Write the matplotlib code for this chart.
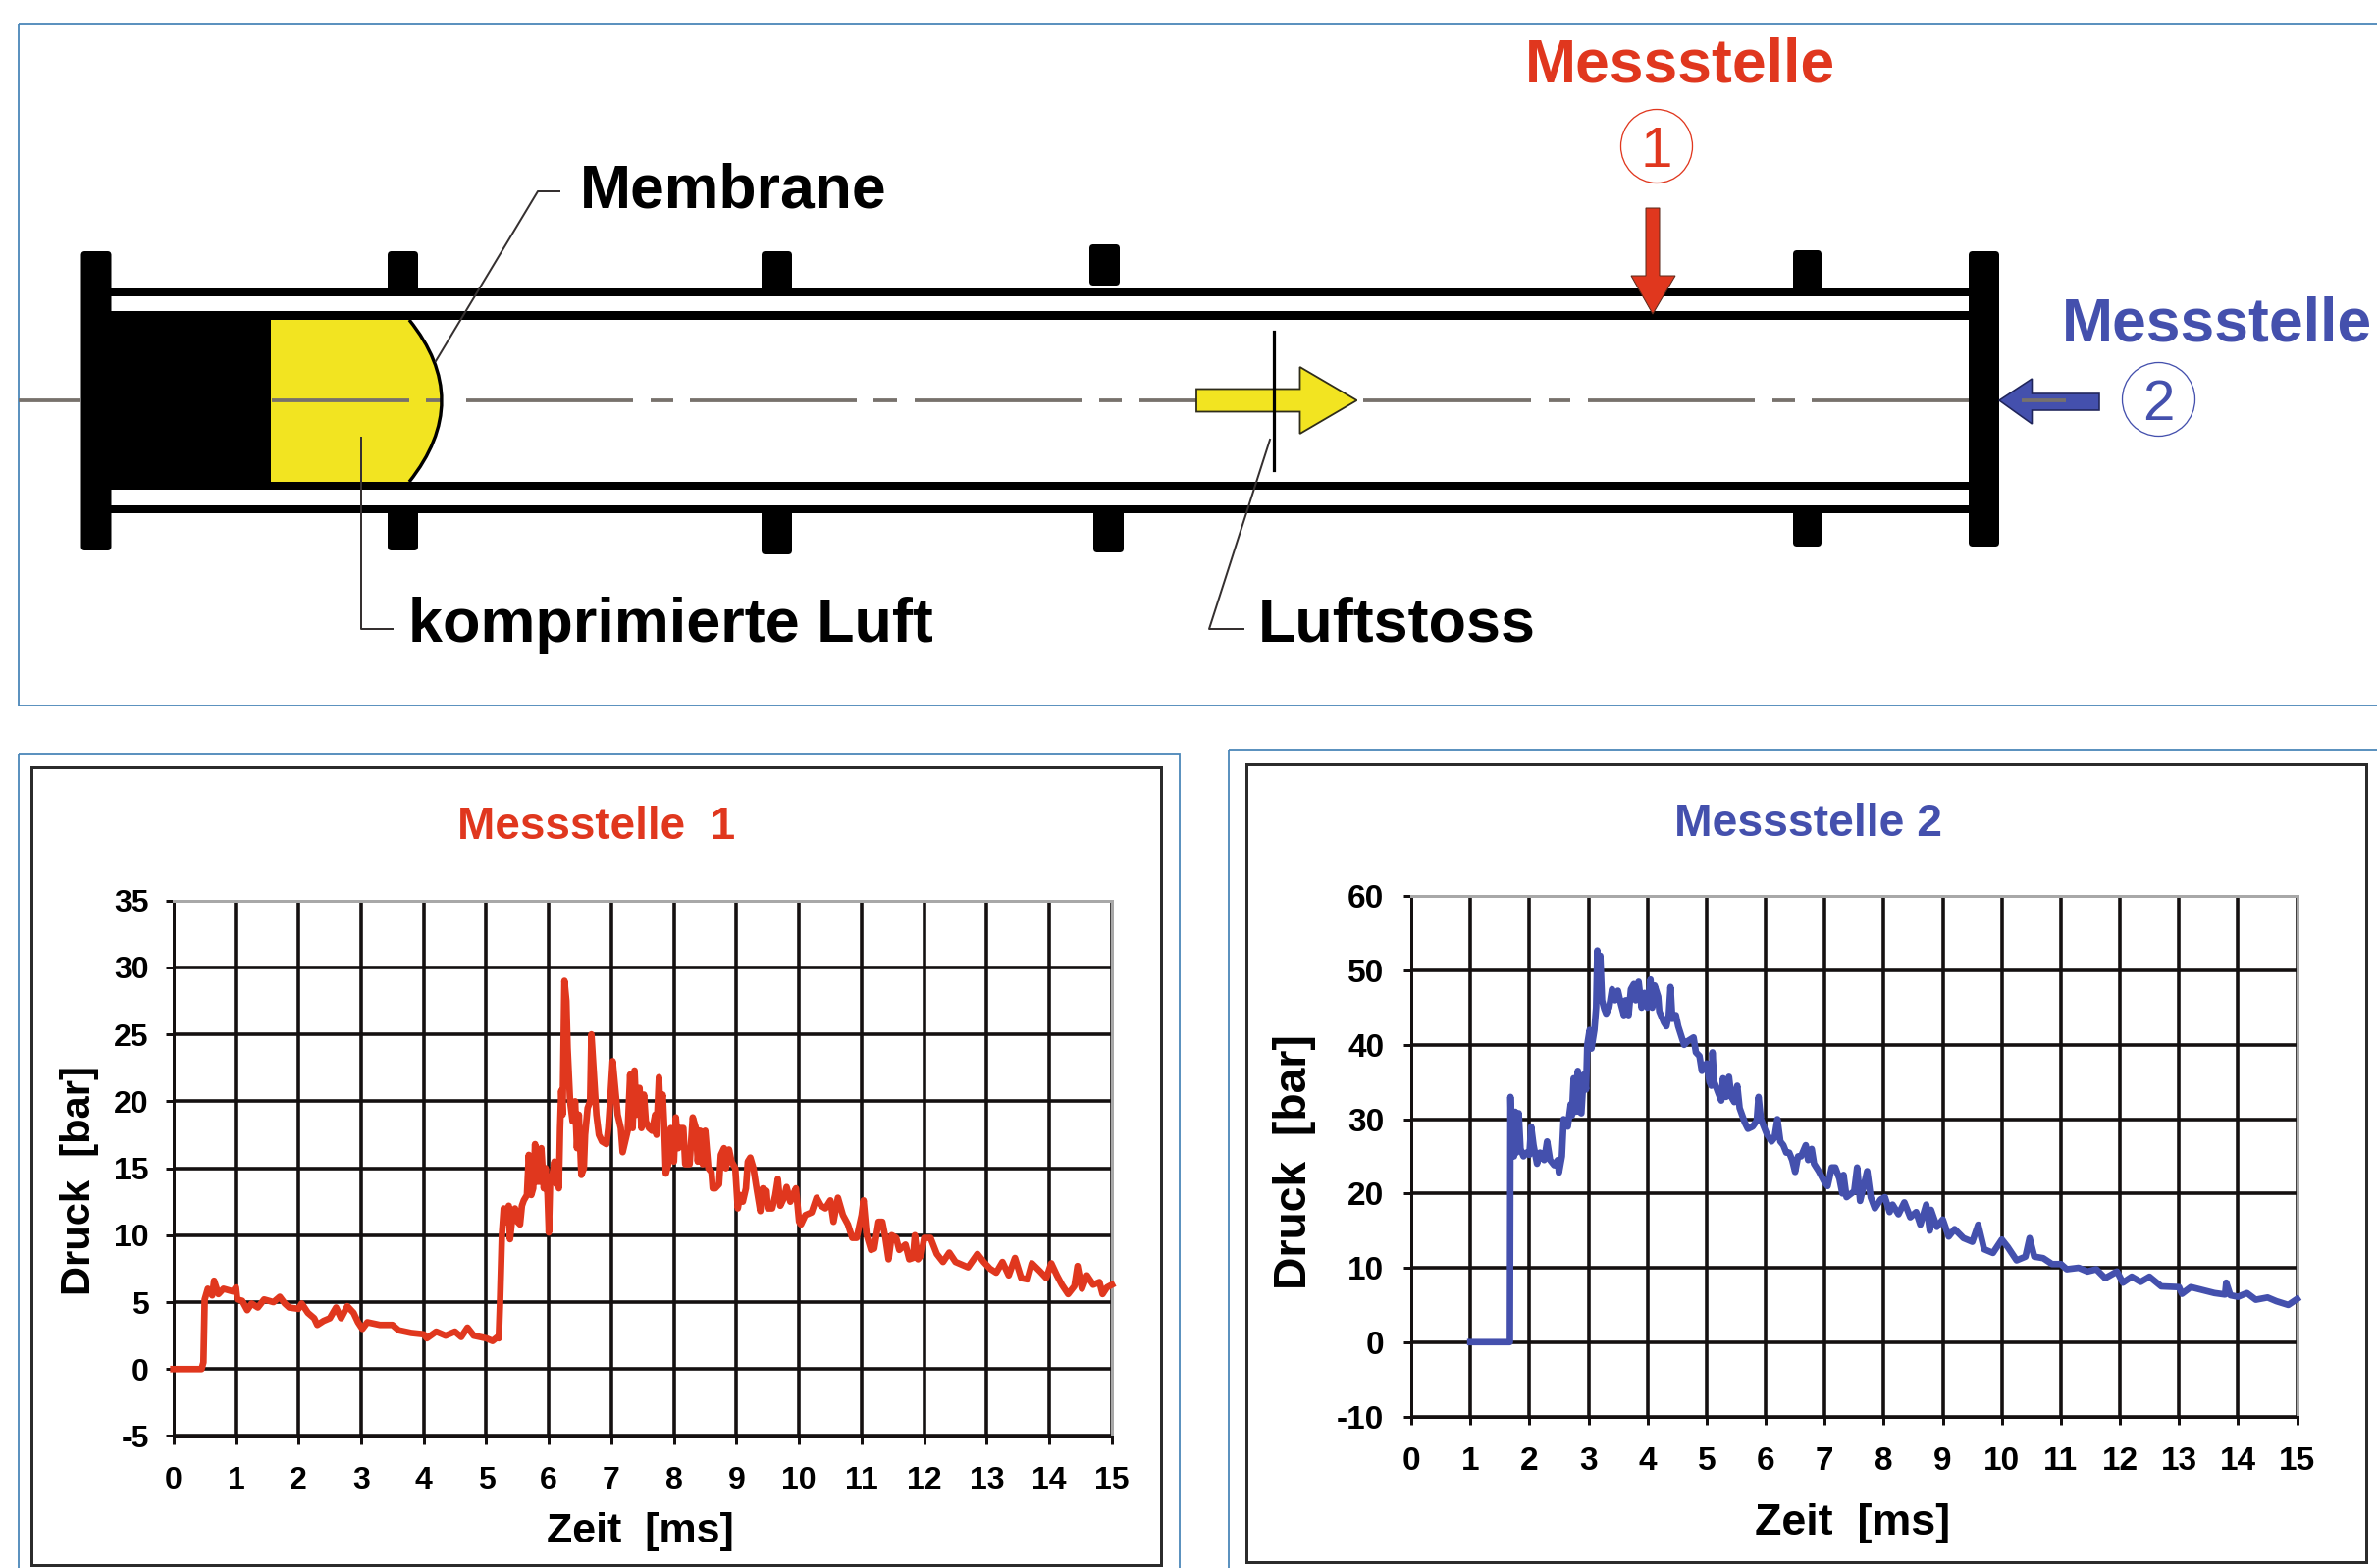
import matplotlib
matplotlib.use("Agg")
import matplotlib.pyplot as plt
from matplotlib.patches import Rectangle, Ellipse, Polygon, PathPatch, FancyBboxPatch
from matplotlib.path import Path

plt.rcParams['font.family'] = ['Liberation Sans', 'DejaVu Sans']

WIDTH = 2422
HEIGHT = 1598
RED = '#e0371e'
BLUE = '#4450ad'
YELLOW = '#f2e421'
BORDER = '#4a86b8'
DARK = '#141010'

# values
time_1 = [0, 0.2, 0.45, 0.48, 0.5, 0.55, 0.62, 0.65, 0.72, 0.8, 0.95, 1, 1.02, 1.1, 1.18, 1.25, 1.35, 1.45, 1.6, 1.7,
          1.78, 1.85, 2, 2.05, 2.15, 2.25, 2.3, 2.4, 2.5, 2.6, 2.68, 2.78, 2.88, 2.95, 3.02, 3.1, 3.3, 3.5, 3.6, 3.8,
          4, 4.05, 4.2, 4.35, 4.5, 4.6, 4.7, 4.8, 5, 5.1, 5.18, 5.2, 5.22, 5.25, 5.28, 5.32, 5.36, 5.38, 5.42, 5.46,
          5.5, 5.54, 5.57, 5.6, 5.65, 5.68, 5.72, 5.75, 5.78, 5.8, 5.85, 5.88, 5.92, 5.95, 5.98, 6, 6.02, 6.05, 6.09, 6.12,
          6.14, 6.16, 6.18, 6.2, 6.22, 6.25, 6.28, 6.3, 6.34, 6.38, 6.42, 6.45, 6.48, 6.52, 6.56, 6.58, 6.62, 6.66, 6.68, 6.72,
          6.76, 6.8, 6.85, 6.92, 6.95, 6.98, 7.02, 7.06, 7.1, 7.15, 7.18, 7.22, 7.26, 7.3, 7.34, 7.37, 7.4, 7.45, 7.48, 7.52,
          7.55, 7.6, 7.65, 7.7, 7.72, 7.76, 7.78, 7.82, 7.85, 7.87, 7.92, 7.95, 8, 8.03, 8.07, 8.1, 8.15, 8.18, 8.25, 8.3,
          8.35, 8.38, 8.42, 8.46, 8.5, 8.55, 8.6, 8.62, 8.66, 8.72, 8.75, 8.8, 8.83, 8.88, 8.92, 8.98, 9.02, 9.06, 9.1, 9.15,
          9.18, 9.22, 9.27, 9.32, 9.38, 9.42, 9.48, 9.5, 9.57, 9.62, 9.66, 9.7, 9.76, 9.8, 9.86, 9.9, 9.95, 10, 10.03, 10.1,
          10.2, 10.28, 10.35, 10.42, 10.5, 10.55, 10.62, 10.7, 10.78, 10.85, 10.92, 11, 11.03, 11.08, 11.15, 11.2, 11.27, 11.33, 11.38, 11.43,
          11.48, 11.55, 11.6, 11.7, 11.76, 11.82, 11.85, 11.9, 11.95, 12, 12.1, 12.2, 12.3, 12.4, 12.5, 12.6, 12.7, 12.85, 12.95, 13.05,
          13.15, 13.25, 13.35, 13.45, 13.55, 13.65, 13.72, 13.85, 13.95, 14.03, 14.12, 14.2, 14.3, 14.4, 14.45, 14.52, 14.6, 14.7, 14.8, 14.85,
          14.92, 15]
druck_1 = [0, 0, 0, 0.5, 5.2, 6, 5.5, 6.6, 5.6, 6, 5.8, 6.1, 5.2, 5.1, 4.4, 4.9, 4.6, 5.2, 5, 5.4,
           4.9, 4.6, 4.5, 4.9, 4.2, 3.8, 3.3, 3.6, 3.8, 4.6, 3.8, 4.7, 4.2, 3.5, 3, 3.5, 3.3, 3.3, 2.9, 2.7,
           2.6, 2.3, 2.8, 2.5, 2.8, 2.4, 3.1, 2.5, 2.3, 2.1, 2.4, 2.3, 5, 10, 12, 11, 12.2, 9.7, 11.5, 12,
           11, 10.8, 12.2, 12.6, 13, 16, 13, 13.5, 16.8, 14, 14, 16.5, 13.5, 15, 13, 10.2, 14, 14.2, 15.5, 13.8,
           15.3, 13.5, 18, 20.8, 19, 29, 27.5, 24, 20, 18.5, 20, 16.5, 19, 14.5, 15, 17.5, 19.5, 20, 25, 22,
           19, 17.5, 17, 16.8, 18, 20, 23, 21, 19, 18, 16.2, 17, 17.8, 22, 18, 22.3, 19, 21, 18, 20.5,
           18.5, 18, 17.8, 19, 17.5, 21.8, 19.5, 20.5, 17.5, 14.6, 15.5, 18, 15.5, 18.8, 16.5, 18, 18, 15.3, 15.3, 18.8,
           18, 15.5, 17.8, 15.3, 17.8, 15, 14.7, 13.5, 13.5, 13.8, 16, 16.5, 15, 16.4, 15.5, 15, 12, 13, 12.5, 13.5,
           15.5, 15.8, 15, 13.5, 11.8, 13.5, 13.3, 12, 12, 13, 14.2, 12.2, 12.8, 13.6, 12.5, 13, 13.5, 11, 10.8, 11.5,
           11.7, 12.8, 12.2, 12, 12.6, 11, 12.8, 11.5, 10.8, 9.8, 9.8, 11.5, 12.6, 10, 8.9, 9, 11, 11, 9.8, 8.2,
           10, 9.8, 8.9, 9.3, 8.2, 8.3, 10, 8.2, 8.5, 9.8, 9.8, 8.6, 8, 8.7, 8, 7.8, 7.6, 8.6, 8, 7.5,
           7.2, 8, 7, 8.3, 6.8, 6.7, 7.9, 7.3, 6.8, 7.9, 7, 6.3, 5.6, 6.2, 7.7, 6, 7, 6.3, 6.5, 5.6,
           6.1, 6.3]

time_2 = [1, 1.67, 1.68, 1.7, 1.72, 1.74, 1.76, 1.78, 1.82, 1.85, 1.9, 1.95, 2, 2.03, 2.07, 2.13, 2.18, 2.25, 2.3, 2.35,
          2.42, 2.48, 2.5, 2.55, 2.58, 2.65, 2.7, 2.72, 2.75, 2.78, 2.82, 2.85, 2.88, 2.92, 2.96, 2.98, 3.02, 3.05, 3.1, 3.13,
          3.15, 3.18, 3.2, 3.23, 3.27, 3.3, 3.35, 3.4, 3.45, 3.5, 3.55, 3.6, 3.63, 3.68, 3.72, 3.77, 3.8, 3.85, 3.9, 3.95,
          4, 4.05, 4.08, 4.12, 4.18, 4.2, 4.28, 4.32, 4.36, 4.39, 4.42, 4.48, 4.52, 4.58, 4.62, 4.68, 4.78, 4.82, 4.88, 4.92,
          5, 5.05, 5.08, 5.1, 5.13, 5.2, 5.25, 5.28, 5.33, 5.38, 5.42, 5.47, 5.52, 5.56, 5.65, 5.7, 5.78, 5.85, 5.88, 5.92,
          5.98, 6.02, 6.1, 6.15, 6.2, 6.25, 6.3, 6.35, 6.4, 6.45, 6.5, 6.55, 6.6, 6.68, 6.72, 6.78, 6.82, 6.9, 7, 7.05,
          7.12, 7.18, 7.25, 7.3, 7.32, 7.37, 7.5, 7.55, 7.6, 7.72, 7.78, 7.85, 7.95, 8.02, 8.1, 8.15, 8.25, 8.35, 8.45, 8.55,
          8.62, 8.72, 8.78, 8.8, 8.9, 9, 9.1, 9.2, 9.35, 9.5, 9.6, 9.7, 9.85, 10, 10.1, 10.25, 10.4, 10.47, 10.55, 10.7,
          10.85, 11, 11.1, 11.3, 11.45, 11.6, 11.75, 11.95, 12.05, 12.2, 12.35, 12.5, 12.7, 13, 13.05, 13.2, 13.4, 13.6, 13.78, 13.8,
          13.87, 14, 14.15, 14.3, 14.5, 14.65, 14.85, 15]
druck_2 = [0, 0, 33, 26, 31, 25, 31, 25.5, 30.8, 26, 25, 25.5, 25.2, 29, 26.5, 24, 25.5, 24.5, 27, 24.5,
           23.8, 24.5, 22.8, 25, 30, 29, 32, 30.5, 35.5, 31, 36.5, 31, 30.8, 36, 34, 40, 42, 39.5, 42, 45,
           52.7, 46.5, 52, 46, 44.8, 44.2, 45, 47.5, 46, 47.3, 45.5, 44, 46, 44, 47.5, 48.2, 46, 48.5, 45, 47,
           45, 48.8, 45, 48, 46.5, 44.5, 43, 42.5, 44, 47.8, 43.5, 44, 42.5, 41, 40, 40.5, 41, 39, 38.5, 36.5,
           37.5, 35, 34.5, 39, 35, 33.5, 32.5, 35.5, 33, 35.7, 33, 32.3, 34.5, 31.5, 29.5, 28.7, 29, 29.8, 33, 30,
           28.8, 28, 27, 27.5, 30, 27, 26.5, 25.5, 25.5, 24.5, 22.9, 25, 25, 26.5, 24.5, 26, 24, 23, 21.5, 21,
           23.5, 23.5, 22, 20, 22.5, 19.5, 20.3, 23.5, 19, 23, 19.5, 18, 19.2, 19.5, 17.5, 18.5, 17.2, 18.8, 16.8, 17.5,
           15.8, 18.5, 15, 17.8, 15.5, 16.5, 14.2, 15.2, 14, 13.5, 15.8, 12.5, 12, 13.8, 12.8, 11, 11.5, 14, 11.5, 11.3,
           10.5, 10.5, 9.8, 10, 9.5, 9.8, 8.6, 9.5, 8, 8.8, 8.1, 8.8, 7.5, 7.4, 6.5, 7.4, 7, 6.6, 6.4, 8,
           6.3, 6.1, 6.6, 5.7, 6, 5.5, 5, 5.8]

x_ticks = list(range(0, 16))
y_ticks_1 = [-5, 0, 5, 10, 15, 20, 25, 30, 35]
y_ticks_2 = [-10, 0, 10, 20, 30, 40, 50, 60]


def pt(px):
    # line widths are measured in image pixels, dpi is 100
    return px * 0.72


def add_box(ax, x0, y0, x1, y1, color='black', zorder=3):
    ax.add_patch(Rectangle((x0, y0), x1 - x0, y1 - y0, facecolor=color, edgecolor='none', zorder=zorder))


def add_clamp(ax, x0, y0, x1, y1):
    ax.add_patch(FancyBboxPatch((x0, y0), x1 - x0, y1 - y0, boxstyle='round,pad=0,rounding_size=4',
                                facecolor='black', edgecolor='none', zorder=3))


def draw_schematic(ax):
    # panel borders
    for x0, y0, x1, y1 in [(18.5, 23.5, 2440, 719), (18.5, 768, 1202, 1620), (1252, 764, 2440, 1620)]:
        ax.add_patch(Rectangle((x0, y0), x1 - x0, y1 - y0, fill=False, edgecolor=BORDER, linewidth=pt(1.8), zorder=1))
    for x0, y0, x1, y1 in [(32, 782, 1183, 1595), (1270, 779, 2411, 1592)]:
        ax.add_patch(Rectangle((x0, y0), x1 - x0, y1 - y0, fill=False, edgecolor='#2b2b2b', linewidth=pt(3), zorder=1))

    # centre line
    center = 408
    dashes = [(18.5, 82), (277, 417), (434, 450), (475, 645), (663, 686), (703, 873), (890, 914), (932, 1102),
              (1120, 1143), (1161, 1331), (1389, 1560), (1578, 1600), (1618, 1788), (1806, 1829), (1846, 2006),
              (2060, 2105)]
    for x0, x1 in dashes:
        ax.plot([x0, x1], [center, center], color='#77716c', linewidth=pt(3.8), zorder=6, solid_capstyle='butt')

    # tube walls
    for y0, y1 in [(294, 302), (317, 326), (491, 499), (514.5, 522.5)]:
        add_box(ax, 100, y0, 2020, y1)

    # flanges and clamps
    add_clamp(ax, 82.5, 256, 113.5, 561)
    add_clamp(ax, 2006, 256, 2037, 557)
    clamps = [(395, 426, 256, 298), (776, 807, 256, 298), (1110, 1141, 249, 291), (1827, 1856, 255, 298),
              (395, 426, 518, 561), (776, 807, 518, 565), (1114, 1145, 518, 563), (1827, 1856, 518, 557)]
    for x0, x1, y0, y1 in clamps:
        add_clamp(ax, x0, y0, x1, y1)

    # black block and compressed air with membrane
    add_box(ax, 100, 317, 276, 499)
    air = Path([(276, 326), (417, 326), (483, 408), (417, 491), (276, 491), (276, 326)],
               [Path.MOVETO, Path.LINETO, Path.CURVE3, Path.CURVE3, Path.LINETO, Path.CLOSEPOLY])
    ax.add_patch(PathPatch(air, facecolor=YELLOW, edgecolor='none', zorder=4))
    membrane = Path([(417, 326), (483, 408), (417, 491)], [Path.MOVETO, Path.CURVE3, Path.CURVE3])
    ax.add_patch(PathPatch(membrane, fill=False, edgecolor='black', linewidth=pt(3.4), zorder=7))

    # arrows
    ax.add_patch(Polygon([(1219, 396.5), (1324.5, 396.5), (1324.5, 374), (1382.5, 408), (1324.5, 442), (1324.5, 419.5), (1219, 419.5)],
                         facecolor=YELLOW, edgecolor='#2e2c1a', linewidth=pt(1.8), zorder=7))
    ax.plot([1297.5, 1297.5], [338, 479], color='black', linewidth=pt(3.2), zorder=8)
    ax.add_patch(Polygon([(1677, 212), (1691, 212), (1691, 281), (1707, 281), (1684, 320), (1662, 281), (1677, 281)],
                         facecolor=RED, edgecolor='#5a2a1c', linewidth=pt(1), zorder=7))
    ax.add_patch(Polygon([(2037, 408), (2070.5, 386), (2070.5, 401), (2139, 401), (2139, 418), (2070.5, 418), (2070.5, 432)],
                         facecolor=BLUE, edgecolor='#20255a', linewidth=pt(1.6), zorder=5))

    # leaders
    leaders = [([570, 548, 444], [195, 195, 368]), ([367.6, 367.6, 400], [446, 641, 641]), ([1294, 1232, 1267], [448, 641, 641])]
    for xs, ys in leaders:
        ax.plot(xs, ys, color='#353030', linewidth=pt(2), zorder=8)

    # labels
    ax.text(591, 212, 'Membrane', fontsize=45, fontweight='bold', color='black', va='baseline', ha='left')
    ax.text(416, 654, 'komprimierte Luft', fontsize=45.3, fontweight='bold', color='black', va='baseline', ha='left')
    ax.text(1282, 653, 'Luftstoss', fontsize=45.3, fontweight='bold', color='black', va='baseline', ha='left')
    ax.text(1712, 83, 'Messstelle', fontsize=45, fontweight='bold', color=RED, va='baseline', ha='center')
    ax.text(2259, 348, 'Messstelle', fontsize=45, fontweight='bold', color=BLUE, va='baseline', ha='center')

    ax.add_patch(Ellipse((1688, 149), 73, 75, fill=False, edgecolor=RED, linewidth=pt(1.3)))
    ax.text(1688, 170, '1', fontsize=42, color=RED, va='baseline', ha='center')
    ax.add_patch(Ellipse((2199.5, 407), 74, 75, fill=False, edgecolor=BLUE, linewidth=pt(1.3)))
    ax.text(2199.5, 428, '2', fontsize=42, color=BLUE, va='baseline', ha='center')


def draw_chart(box, t, p, yticks, ylim, color, pad_x, pad_y, size):
    x0, y0, x1, y1 = box
    ax = fig.add_axes([x0 / WIDTH, 1 - y1 / HEIGHT, (x1 - x0) / WIDTH, (y1 - y0) / HEIGHT])
    ax.patch.set_alpha(0)
    ax.set_xlim(0, 15)
    ax.set_ylim(*ylim)
    ax.set_xticks(x_ticks)
    ax.set_yticks(yticks)
    ax.set_xticklabels([str(v) for v in x_ticks])
    ax.set_yticklabels([str(v) for v in yticks])
    ax.grid(True, color=DARK, linewidth=pt(3.6))
    ax.set_axisbelow(True)
    for side in ['left', 'bottom']:
        ax.spines[side].set_linewidth(pt(3))
        ax.spines[side].set_color(DARK)
    for side in ['top', 'right']:
        ax.spines[side].set_linewidth(pt(3))
        ax.spines[side].set_color('#a8a8a8')
    ax.tick_params(axis='x', length=6, width=pt(3), pad=pad_x, labelsize=size, color=DARK)
    ax.tick_params(axis='y', length=6, width=pt(3), pad=pad_y, labelsize=size, color=DARK)
    for label in ax.get_xticklabels() + ax.get_yticklabels():
        label.set_fontweight('bold')
    ax.plot(t, p, color=color, linewidth=4.8, solid_joinstyle='round', clip_on=False, zorder=5)
    return ax


fig = plt.figure(figsize=(WIDTH / 100, HEIGHT / 100), dpi=100)
bg = fig.add_axes([0, 0, 1, 1])
bg.set_xlim(0, WIDTH)
bg.set_ylim(HEIGHT, 0)
bg.axis('off')

draw_schematic(bg)

draw_chart((176.7, 917.7, 1133, 1463.5), time_1, druck_1, y_ticks_1, (-5, 35), RED, 16, 12, 23)
draw_chart((1438, 913.4, 2340.6, 1443.5), time_2, druck_2, y_ticks_2, (-10, 60), BLUE, 16, 14, 24)

# chart titles and axis labels go in image coordinates
bg.text(608, 855, 'Messstelle  1', fontsize=33, fontweight='bold', color=RED, ha='center', va='baseline')
bg.text(1842, 852, 'Messstelle 2', fontsize=33.3, fontweight='bold', color=BLUE, ha='center', va='baseline')
bg.text(652, 1572, 'Zeit  [ms]', fontsize=31, fontweight='bold', ha='center', va='baseline')
bg.text(1887.5, 1564, 'Zeit  [ms]', fontsize=32.3, fontweight='bold', ha='center', va='baseline')
bg.text(81, 1203, 'Druck  [bar]', fontsize=30, fontweight='bold', rotation=90, ha='center', va='center')
bg.text(1319, 1184, 'Druck  [bar]', fontsize=33.3, fontweight='bold', rotation=90, ha='center', va='center')

fig.savefig('out.png', dpi=100)
